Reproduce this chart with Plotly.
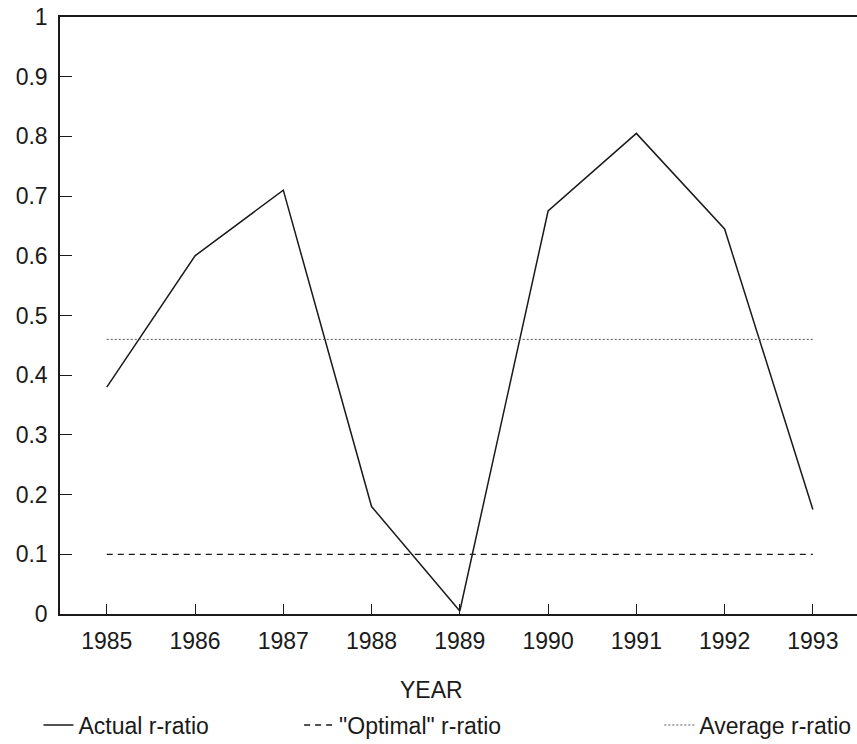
import plotly.graph_objects as go

years = [1985, 1986, 1987, 1988, 1989, 1990, 1991, 1992, 1993]
actual_r = [0.38, 0.60, 0.71, 0.18, 0.005, 0.675, 0.805, 0.645, 0.175]
optimal_r = [0.10] * len(years)
average_r = [0.46] * len(years)

y_ticks = [0, 0.1, 0.2, 0.3, 0.4, 0.5, 0.6, 0.7, 0.8, 0.9, 1]
y_labels = ["0", "0.1", "0.2", "0.3", "0.4", "0.5", "0.6", "0.7", "0.8", "0.9", "1"]

ink = "#1a1a1a"
font_family = "Liberation Sans, Arial, sans-serif"
fsize = 23

fig = go.Figure()
fig.add_trace(go.Scatter(
    x=years, y=actual_r, mode="lines", name="Actual r-ratio",
    line=dict(color=ink, width=1.5), legend="legend"))
fig.add_trace(go.Scatter(
    x=years, y=optimal_r, mode="lines", name="\"Optimal\" r-ratio",
    line=dict(color=ink, width=1.3, dash="6px,5px"), legend="legend2"))
fig.add_trace(go.Scatter(
    x=years, y=average_r, mode="lines", name="Average r-ratio",
    line=dict(color="#555555", width=1, dash="2px,2px"), legend="legend3"))

legend_common = dict(orientation="h", yanchor="middle", xanchor="left",
                     font=dict(family=font_family, size=fsize, color=ink),
                     bgcolor="rgba(0,0,0,0)", itemwidth=30)

fig.update_layout(
    width=857, height=744,
    margin=dict(l=60, r=0, t=17, b=130, autoexpand=False),
    paper_bgcolor="white", plot_bgcolor="white",
    font=dict(family=font_family, size=fsize, color=ink),
    xaxis=dict(
        range=[1984.47, 1993.5],
        tickvals=years, ticktext=[str(y) for y in years],
        ticks="inside", ticklen=10, tickwidth=1.2, tickcolor=ink,
        showline=True, linecolor=ink, linewidth=1.5, mirror=False,
        showgrid=False, zeroline=False,
        tickfont=dict(size=fsize), ticklabelstandoff=6,
    ),
    xaxis2=dict(overlaying="x", side="top", range=[1984.47, 1993.5],
                showline=True, linecolor=ink, linewidth=1.5,
                showticklabels=False, ticks="", showgrid=False, zeroline=False,
                anchor="y"),
    yaxis=dict(
        range=[0, 1],
        tickvals=y_ticks, ticktext=y_labels,
        ticks="inside", ticklen=12, tickwidth=1.2, tickcolor=ink,
        showline=True, linecolor=ink, linewidth=1.5,
        showgrid=False, zeroline=False,
        tickfont=dict(size=fsize), ticklabelstandoff=6,
    ),
    legend=dict(x=-0.027, y=-0.186, **legend_common),
    legend2=dict(x=0.3, y=-0.186, **legend_common),
    legend3=dict(x=0.752, y=-0.186, **legend_common),
    showlegend=True,
    annotations=[dict(text="YEAR", x=0.466, y=-0.128, xref="paper", yref="paper",
                      xanchor="center", yanchor="middle", showarrow=False,
                      font=dict(family=font_family, size=fsize, color=ink))],
)

# invisible trace so the top border axis is drawn
fig.add_trace(go.Scatter(x=[years[0]], y=[0], xaxis="x2", mode="lines",
                         showlegend=False, hoverinfo="skip",
                         line=dict(color="rgba(0,0,0,0)")))

fig.write_html("out.html")
